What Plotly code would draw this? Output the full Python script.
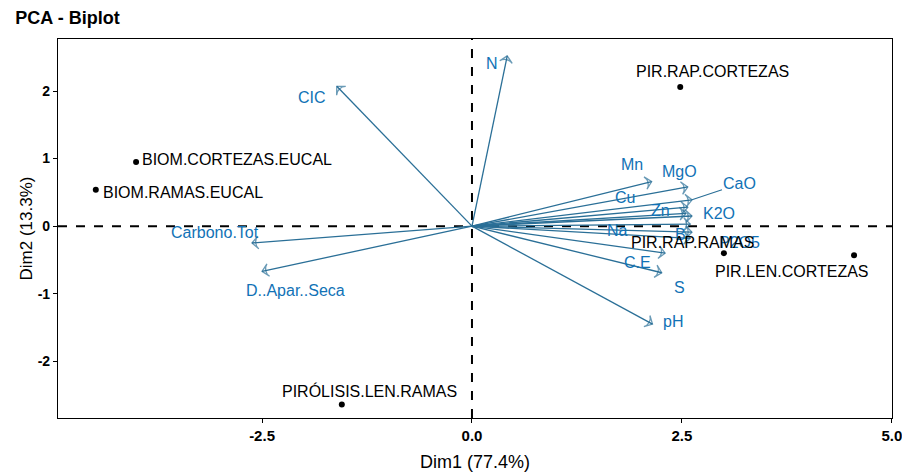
import plotly.graph_objects as go

# Individuals (scores)
ind_names = ["PIR.RAP.CORTEZAS", "BIOM.CORTEZAS.EUCAL", "BIOM.RAMAS.EUCAL",
             "PIR.RAP.RAMAS", "PIR.LEN.CORTEZAS", "PIRÓLISIS.LEN.RAMAS"]
ind_x = [2.48, -4.00, -4.48, 3.00, 4.55, -1.55]
ind_y = [2.06, 0.95, 0.54, -0.40, -0.43, -2.64]

# Variables (loadings, scaled)
var_names = ["N", "CIC", "Mn", "MgO", "CaO", "Cu", "Zn", "K2O", "Na", "P2O5",
             "B", "C.E", "S", "pH", "Carbono.Tot", "D..Apar..Seca"]
var_x = [0.42, -1.61, 2.14, 2.57, 2.62, 2.57, 2.55, 2.62, 2.60, 2.62,
         2.60, 2.30, 2.26, 2.15, -2.62, -2.50]
var_y = [2.52, 2.07, 0.66, 0.58, 0.39, 0.28, 0.19, 0.15, 0.03, -0.09,
         -0.18, -0.40, -0.69, -1.45, -0.25, -0.67]

title = "PCA - Biplot"
x_title = "Dim1 (77.4%)"
y_title = "Dim2 (13.3%)"
x_ticks = [-2.5, 0.0, 2.5, 5.0]
x_ticktext = ["-2.5", "0.0", "2.5", "5.0"]
y_ticks = [-2, -1, 0, 1, 2]
y_ticktext = ["-2", "-1", "0", "1", "2"]

# label offsets (pixels) for variable labels, style only
var_shift = {
    "N": (-15, -8), "CIC": (-25, -11), "Mn": (-20, 17), "MgO": (-8, 15),
    "CaO": (0, 0), "Cu": (-63, 10), "Zn": (-26, 3), "K2O": (27, 3),
    "Na": (-73, -6), "P2O5": (48, -10), "B": (-10, 4), "C.E": (-28, -9),
    "S": (18, -15), "pH": (20, 3), "Carbono.Tot": (-37, 11), "D..Apar..Seca": (33, -19),
}
ind_shift = {
    "PIR.RAP.CORTEZAS": (32, 15, "center"), "BIOM.CORTEZAS.EUCAL": (4, 2, "left"),
    "BIOM.RAMAS.EUCAL": (5, -3, "left"), "PIR.RAP.RAMAS": (-31, 11, "center"),
    "PIR.LEN.CORTEZAS": (-62, -16, "center"), "PIRÓLISIS.LEN.RAMAS": (28, 13, "center"),
}

arrow_col = "#2a6f97"
text_col = "#1172b6"
font_fam = "Liberation Sans, Arial, sans-serif"
narrow = "Liberation Sans Narrow, Liberation Sans, Arial"

fig = go.Figure()

for n, vx, vy in zip(var_names, var_x, var_y):
    fig.add_trace(go.Scatter(
        x=[0, vx], y=[0, vy], mode="lines+markers",
        line=dict(color=arrow_col, width=1.3),
        marker=dict(symbol="arrow-wide-open", size=[0, 9], angleref="previous",
                    color=arrow_col, line=dict(color=arrow_col, width=1.3)),
        showlegend=False, hoverinfo="skip"))

fig.add_trace(go.Scatter(x=ind_x, y=ind_y, mode="markers",
                         marker=dict(color="black", size=6),
                         showlegend=False, hoverinfo="skip"))

annotations = []
for n, vx, vy in zip(var_names, var_x, var_y):
    dx, dy = var_shift[n]
    if n == "CaO":
        annotations.append(dict(x=vx, y=vy, xref="x", yref="y", text=n,
                                showarrow=True, arrowhead=0, arrowcolor=arrow_col,
                                arrowwidth=1.2, ax=48, ay=-16, standoff=0,
                                font=dict(family=font_fam, size=16, color=text_col)))
    else:
        annotations.append(dict(x=vx, y=vy, xref="x", yref="y", text=n, showarrow=False,
                                xshift=dx, yshift=dy,
                                font=dict(family=font_fam, size=16, color=text_col)))

for n, px, py in zip(ind_names, ind_x, ind_y):
    dx, dy, anc = ind_shift[n]
    annotations.append(dict(x=px, y=py, xref="x", yref="y", text=n, showarrow=False,
                            xshift=dx, yshift=dy, xanchor=anc,
                            font=dict(family=font_fam, size=16, color="black")))

fig.update_layout(
    width=902, height=475, autosize=False,
    margin=dict(l=58, r=10, t=39, b=57),
    plot_bgcolor="white", paper_bgcolor="white",
    title=dict(text="<b>" + title + "</b>", x=0.017, xanchor="left", y=0.962, yanchor="middle",
               font=dict(family=font_fam, size=18, color="black")),
    annotations=annotations,
    shapes=[
        dict(type="line", xref="x", yref="paper", x0=0, x1=0, y0=0, y1=1,
             line=dict(color="black", width=2, dash="dash"), layer="below"),
        dict(type="line", xref="paper", yref="y", x0=0, x1=1, y0=0, y1=0,
             line=dict(color="black", width=2, dash="dash"), layer="below"),
    ],
    xaxis=dict(range=[-4.93, 5.002], tickvals=x_ticks, ticktext=x_ticktext,
               automargin=False, ticklabeloverflow="allow",
               showgrid=False, zeroline=False, showline=True, mirror=True,
               linecolor="black", linewidth=1.2, ticks="outside", ticklen=4,
               tickcolor="black",
               tickfont=dict(family=narrow, size=15, color="black", weight="bold"),
               title=dict(text=x_title, standoff=12,
                          font=dict(family=narrow, size=18, color="black"))),
    yaxis=dict(range=[-2.84, 2.77], tickvals=y_ticks, ticktext=y_ticktext,
               automargin=False,
               showgrid=False, zeroline=False, showline=True, mirror=True,
               linecolor="black", linewidth=1.2, ticks="outside", ticklen=4,
               tickcolor="black",
               tickfont=dict(family=font_fam, size=14, color="black", weight="bold"),
               title=dict(text=y_title, standoff=0,
                          font=dict(family=font_fam, size=17, color="black"))),
)

fig.write_html(
    "out.html",
    config={"responsive": False, "displayModeBar": False},
    post_script="document.body.style.margin='0';document.body.style.padding='0';"
                "document.body.style.overflow='hidden';",
)
